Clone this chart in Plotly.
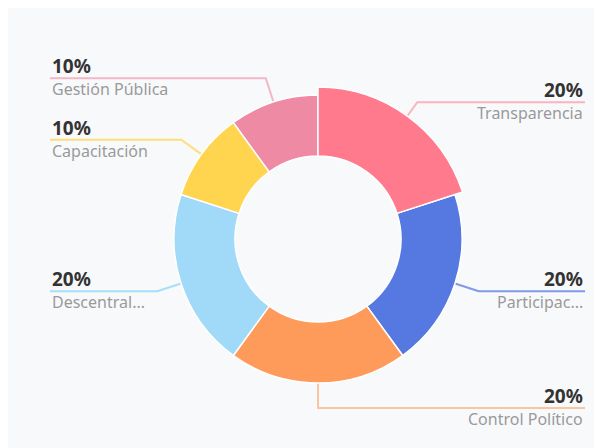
import math
import plotly.graph_objects as go

# ---- data ----
categories = ["Transparencia", "Participación", "Control Político",
              "Descentralización", "Capacitación", "Gestión Pública"]
display_labels = ["Transparencia", "Participac...", "Control Político",
                  "Descentral...", "Capacitación", "Gestión Pública"]
values = [20, 20, 20, 20, 10, 10]
colors = ["#FF7A8C", "#5679E1", "#FF9B5A", "#A0DAF8", "#FFD44F", "#EE8AA3"]
line_colors = ["rgba(255,122,140,0.55)", "rgba(86,121,225,0.75)", "rgba(255,155,90,0.55)",
               "rgba(160,218,248,0.9)", "rgba(255,212,79,0.75)", "rgba(238,138,163,0.6)"]
emphasized = 0  # Transparencia is highlighted

# ---- layout constants (pixels in figure space) ----
W, H = 594, 440
CX, CY = 310, 231
R_OUT, R_EMPH, R_IN, R_ELBOW = 144, 152, 83, 169
LEFT_X, RIGHT_X = 42, 577
BG = "#F8F9FB"


def domain(r):
    return dict(x=[(CX - r) / W, (CX + r) / W],
                y=[1 - (CY + r) / H, 1 - (CY - r) / H])


fig = go.Figure()

fig.add_trace(go.Pie(
    labels=categories, values=values, sort=False, direction="clockwise",
    rotation=0, hole=R_IN / R_OUT, domain=domain(R_OUT),
    marker=dict(colors=colors, line=dict(color="white", width=1.5)),
    textinfo="none", hoverinfo="label+percent", showlegend=False,
))

emph_colors = [c if i == emphasized else "rgba(0,0,0,0)" for i, c in enumerate(colors)]
emph_lines = ["white" if i == emphasized else "rgba(0,0,0,0)" for i in range(len(colors))]
fig.add_trace(go.Pie(
    labels=categories, values=values, sort=False, direction="clockwise",
    rotation=0, hole=R_IN / R_EMPH, domain=domain(R_EMPH),
    marker=dict(colors=emph_colors, line=dict(color=emph_lines, width=1.5)),
    textinfo="none", hoverinfo="skip", showlegend=False,
))

total = sum(values)
cum = 0
annotations = []
for i, v in enumerate(values):
    mid = (cum + v / 2) / total * 2 * math.pi
    cum += v
    dx, dy = math.sin(mid), -math.cos(mid)
    r0 = R_EMPH if i == emphasized else R_OUT
    x0, y0 = CX + dx * r0, CY + dy * r0
    x1, y1 = CX + dx * R_ELBOW, CY + dy * R_ELBOW
    right = dx > 1e-9 or (abs(dx) < 1e-9)
    x2 = RIGHT_X if right else LEFT_X
    fig.add_trace(go.Scatter(
        x=[x0, x1, x2], y=[y0, y1, y1], mode="lines",
        line=dict(color=line_colors[i], width=2),
        hoverinfo="skip", showlegend=False,
    ))
    pct = f"{round(v / total * 100)}%"
    anchor = "right" if right else "left"
    annotations.append(dict(
        x=x2, y=y1 - 12, xref="x", yref="y", text=f"<b>{pct}</b>",
        showarrow=False, xanchor=anchor, yanchor="middle",
        font=dict(family="Noto Sans", size=19, color="#333333"),
    ))
    annotations.append(dict(
        x=x2, y=y1 + 11, xref="x", yref="y", text=display_labels[i],
        showarrow=False, xanchor=anchor, yanchor="middle",
        font=dict(family="Noto Sans", size=16, color="#9A9A9A"),
    ))

fig.update_layout(
    width=W, height=H,
    margin=dict(l=0, r=0, t=0, b=0),
    paper_bgcolor=BG, plot_bgcolor=BG,
    xaxis=dict(range=[0, W], visible=False, fixedrange=True, domain=[0, 1]),
    yaxis=dict(range=[H, 0], visible=False, fixedrange=True, domain=[0, 1]),
    annotations=annotations,
)

fig.write_html("out.html")
